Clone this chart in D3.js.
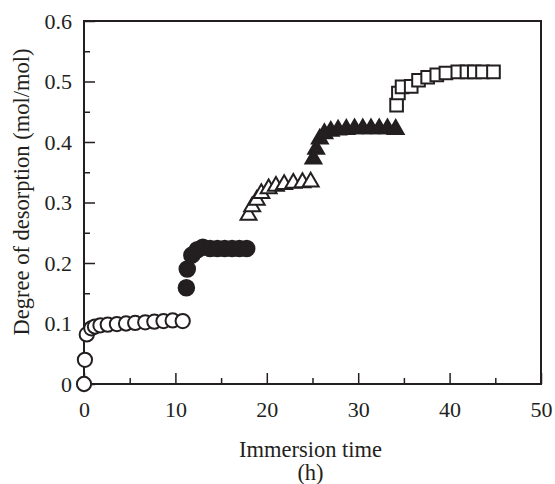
<!DOCTYPE html>
<html>
<head>
<meta charset="utf-8">
<script src="https://cdn.jsdelivr.net/npm/d3@7"></script>
<style>
  html, body { margin: 0; padding: 0; background: #fff; }
  svg { display: block; }
  text { font-family: "Liberation Serif", "Times New Roman", serif; fill: #231f20; }
</style>
</head>
<body>
<script>
// Desorption stages: immersion time (h) and degree of desorption (mol/mol)
const stage1Time = [0, 0.1, 0.3, 0.8, 1.2, 1.8, 2.6, 3.6, 4.6, 5.6, 6.7, 7.7, 8.7, 9.7, 10.8];
const stage1Value = [0, 0.040, 0.082, 0.092, 0.095, 0.097, 0.098, 0.099, 0.100, 0.101, 0.102, 0.103, 0.104, 0.105, 0.104];

const stage2Time = [11.2, 11.3, 11.8, 12.4, 13.0, 13.8, 14.6, 15.4, 16.2, 17.0, 17.8];
const stage2Value = [0.159, 0.190, 0.213, 0.222, 0.226, 0.224, 0.224, 0.224, 0.224, 0.224, 0.224];

const stage3Time = [18.0, 18.4, 18.9, 19.4, 20.2, 21.0, 21.9, 22.9, 23.9, 24.8];
const stage3Value = [0.279, 0.293, 0.304, 0.315, 0.323, 0.327, 0.330, 0.332, 0.333, 0.334];

const stage4Time = [25.1, 25.4, 25.8, 26.3, 27.0, 27.8, 28.7, 29.6, 30.5, 31.4, 32.3, 33.2, 34.1];
const stage4Value = [0.372, 0.388, 0.405, 0.414, 0.418, 0.420, 0.421, 0.422, 0.422, 0.422, 0.422, 0.422, 0.421];

const stage5Time = [34.2, 34.4, 34.8, 35.8, 36.6, 37.6, 38.6, 39.6, 40.9, 41.9, 42.7, 43.6, 44.8];
const stage5Value = [0.461, 0.481, 0.491, 0.492, 0.502, 0.507, 0.511, 0.514, 0.516, 0.516, 0.516, 0.516, 0.516];

const xTicks = [0, 10, 20, 30, 40, 50];
const yTicks = [0, 0.1, 0.2, 0.3, 0.4, 0.5, 0.6];
const xTitle = "Immersion time";
const xUnit = "(h)";
const yTitle = "Degree of desorption (mol/mol)";

const W = 555, H = 484;
const margin = { left: 84, top: 21, right: 14, bottom: 100 };
const innerW = W - margin.left - margin.right;
const innerH = H - margin.top - margin.bottom;
const ink = "#231f20";
const tickFont = 22, titleFont = 22.5;

const svg = d3.select("body").append("svg").attr("width", W).attr("height", H);
const g = svg.append("g").attr("transform", `translate(${margin.left},${margin.top})`);

const x = d3.scaleLinear().domain([0, 50]).range([0, innerW]);
const y = d3.scaleLinear().domain([0, 0.6]).range([innerH, 0]);

// Frame
g.append("rect").attr("x", 0).attr("y", 0).attr("width", innerW).attr("height", innerH)
  .attr("fill", "none").attr("stroke", ink).attr("stroke-width", 2);

// Bottom axis: inward major and minor ticks
const xMinor = d3.range(0, 51, 5);
g.append("g").attr("transform", `translate(0,${innerH})`)
  .call(d3.axisBottom(x).tickValues(xMinor).tickSize(-6).tickFormat(""))
  .call(a => a.select(".domain").remove())
  .call(a => a.selectAll("line").attr("stroke", ink).attr("stroke-width", 1.5)
    .attr("y2", d => d % 10 === 0 ? -11 : -6));
g.append("g").attr("transform", `translate(0,${innerH})`)
  .call(d3.axisBottom(x).tickValues(xTicks).tickSize(0).tickPadding(17).tickFormat(d3.format("d")))
  .call(a => a.select(".domain").remove())
  .call(a => a.selectAll("text").attr("font-size", tickFont).attr("fill", ink)
    .style("font-family", "'Liberation Serif', serif"));

// Left axis: inward major and minor ticks
const yMinor = d3.range(0, 13).map(i => i * 0.05);
g.append("g")
  .call(d3.axisLeft(y).tickValues(yMinor).tickSize(-6).tickFormat(""))
  .call(a => a.select(".domain").remove())
  .call(a => a.selectAll("line").attr("stroke", ink).attr("stroke-width", 1.5)
    .attr("x2", (d, i) => i % 2 === 0 ? 11 : 6));
g.append("g")
  .call(d3.axisLeft(y).tickValues(yTicks).tickSize(0).tickPadding(12)
    .tickFormat(d => d === 0 ? "0" : d3.format(".1f")(d)))
  .call(a => a.select(".domain").remove())
  .call(a => a.selectAll("text").attr("font-size", tickFont).attr("fill", ink)
    .style("font-family", "'Liberation Serif', serif"));

// Axis titles
svg.append("text").attr("x", margin.left + innerW / 2 - 2).attr("y", 457)
  .attr("text-anchor", "middle").attr("font-size", titleFont).text(xTitle);
svg.append("text").attr("x", margin.left + innerW / 2 - 2).attr("y", 480)
  .attr("text-anchor", "middle").attr("font-size", titleFont).text(xUnit);
svg.append("text").attr("transform", `translate(29,192) rotate(-90)`)
  .attr("text-anchor", "middle").attr("font-size", titleFont).text(yTitle);

// Markers
const toPts = (ts, vs) => ts.map((t, i) => ({ t, v: vs[i] }));
const marks = g.append("g");

function drawSymbol(data, type, size, filled) {
  marks.append("g").selectAll("path").data(data).join("path")
    .attr("transform", d => `translate(${x(d.t)},${y(d.v)})`)
    .attr("d", d3.symbol().type(type).size(size)())
    .attr("fill", filled ? ink : "#fff")
    .attr("stroke", ink).attr("stroke-width", 2);
}

drawSymbol(toPts(stage1Time, stage1Value), d3.symbolCircle, 160, false);
drawSymbol(toPts(stage2Time, stage2Value), d3.symbolCircle, 190, true);
drawSymbol(toPts(stage3Time, stage3Value), d3.symbolTriangle, 110, false);
drawSymbol(toPts(stage4Time, stage4Value), d3.symbolTriangle, 110, true);
drawSymbol(toPts(stage5Time, stage5Value), d3.symbolSquare, 160, false);
</script>
</body>
</html>
